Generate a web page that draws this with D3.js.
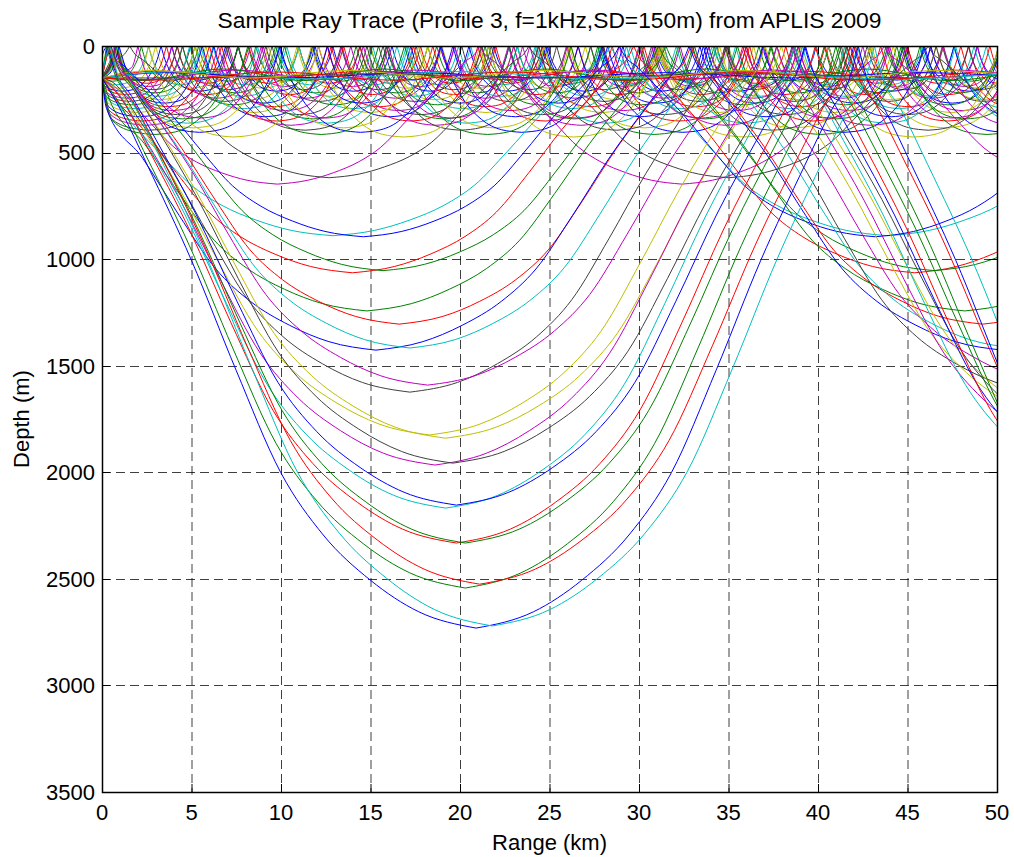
<!DOCTYPE html>
<html><head><meta charset="utf-8">
<script src="https://cdn.jsdelivr.net/npm/d3@7"></script>
<style>
body{margin:0;background:#fff}
text{font-family:"Liberation Sans",Arial,Helvetica,sans-serif;fill:#000}
</style>
</head><body>
<svg id="chart" width="1014" height="857"></svg>
<script>
// ---------------- data ----------------
const titleText = "Sample Ray Trace (Profile 3, f=1kHz,SD=150m) from APLIS 2009";
const xLabel = "Range (km)";
const yLabel = "Depth (m)";
const xTicks = [0,5,10,15,20,25,30,35,40,45,50];
const yTicks = [0,500,1000,1500,2000,2500,3000,3500];
const sourceDepth = 150;

// MATLAB colour order
const colorMap = {b:"#0000ff", g:"#008000", r:"#ff0000", c:"#00bfbf", m:"#bf00bf", y:"#bfbf00", k:"#404040"};

// deep refracted rays: colour, lower turning depth (m), range of first lower turning (km), cycle (km), launched up?
const deepColor  = ["m","k","c","b","r","g","g","r","b","c","k","m","y","y","m","k","c","b","r","g","g","r","b","c"];
const deepDepth  = [648,618,890,895,1064,1054,1243,1305,1427,1417,1624,1591,1825,1840,1966,1957,2168,2154,2332,2332,2543,2525,2731,2721];
const deepBottom = [9.8,12.7,12.9,14.6,14.0,15.7,14.8,16.6,15.3,17.2,17.2,18.2,18.3,19.2,18.6,19.6,19.2,19.8,19.8,20.3,20.3,21.1,20.9,21.8];
const deepCycle  = [22.6,22.3,31.0,28.6,31.4,30.8,33.4,32.6,35.0,33.8,35.4,35.4,37.5,37.5,38.2,38.2,39.0,39.0,40.1,40.1,41.4,41.4,42.7,42.7];
const deepUp     = [0,1,0,1,0,1,0,1,0,1,0,1,0,1,0,1,0,1,0,1,0,1,0,1];
// normalised half-cycle shape of a deep ray (fraction of half-cycle from surface, fraction of turning depth)
const deepShape = [[0,0],[0.02,0.05],[0.07,0.11],[0.14,0.205],[0.255,0.368],[0.372,0.557],[0.489,0.733],[0.6,0.84],[0.724,0.918],[0.85,0.972],[1,1]];

// surface-duct rays (surface reflected): colour, lower turning depth (m), cycle (km), first surface bounce (km), launched up?
const ductColor = ["b","g","r","c","m","y","k","b","g","r","c","m","y","k","b","g","r","c","m","y","k","b","g","r","c","m","y","k","b","g","y","m"];
const ductDepth = [160,165,175,182,190,198,205,212,220,228,236,245,252,260,268,276,285,294,303,312,322,332,342,352,362,372,384,395,405,415,427,338];
const ductCycle = [3.0,3.2,3.4,3.6,3.8,4.0,4.2,4.3,4.5,4.6,4.8,5.0,5.1,5.3,5.5,5.7,5.9,6.1,6.3,6.5,6.8,7.0,7.3,7.5,7.8,8.1,8.4,8.7,9.0,9.3,9.5,7.0];
const ductFirst = [0.9,2.2,0.8,2.6,0.7,3.0,0.75,3.3,0.7,3.6,0.72,3.9,0.7,4.2,0.75,4.5,0.78,4.9,0.8,5.2,0.82,5.6,0.85,6.0,0.88,6.5,0.9,7.0,0.95,7.6,2.6,2.0];
const ductUp    = [1,0,1,0,1,0,1,0,1,0,1,0,1,0,1,0,1,0,1,0,1,0,1,0,1,0,1,0,1,0,1,1];
const ductShape = [[0,0],[0.1,0.3],[0.25,0.58],[0.5,0.85],[0.75,0.97],[1,1]];

// channel rays near the source depth (refracted both ways): colour, upper (m), lower (m), cycle (km), first turning goes up?
const chanColor  = ["r","m","b","g","c","k","y","r"];
const chanTop    = [118,113,125,108,120,130,115,122];
const chanBottom = [152,158,150,162,155,150,150,160];
const chanCycle  = [12,10,14,9,16,20,11,13];
const chanUp     = [1,0,1,0,1,0,1,0];

// ---------------- layout ----------------
const W = 1014, H = 857;
const m = {left:102, right:17, top:46, bottom:65};
const pw = W - m.left - m.right, ph = H - m.top - m.bottom;
const x = d3.scaleLinear().domain([0,50]).range([0,pw]);
const y = d3.scaleLinear().domain([0,3500]).range([0,ph]);

const svg = d3.select("#chart");
const g = svg.append("g").attr("transform",`translate(${m.left},${m.top})`);

svg.append("defs").append("clipPath").attr("id","clip")
  .append("rect").attr("width",pw).attr("height",ph);

// grid
g.append("g").selectAll("line").data(xTicks.slice(1,-1)).join("line")
  .attr("x1",d=>x(d)+0.5).attr("x2",d=>x(d)+0.5).attr("y1",0).attr("y2",ph)
  .attr("stroke","#000").attr("stroke-width",1).attr("stroke-dasharray","9,5").attr("opacity",0.75);
g.append("g").selectAll("line").data(yTicks.slice(1,-1)).join("line")
  .attr("y1",d=>Math.round(y(d))+0.5).attr("y2",d=>Math.round(y(d))+0.5).attr("x1",0).attr("x2",pw)
  .attr("stroke","#000").attr("stroke-width",1).attr("stroke-dasharray","9,5").attr("opacity",0.75);

// ---------------- rays ----------------
const line = d3.line().x(d=>x(d[0])).y(d=>y(d[1])).curve(d3.curveMonotoneX);
const rays = g.append("g").attr("clip-path","url(#clip)");

function half(shape, xs, xb, D){
  const pts = shape.map(([u,f]) => [xs + u*(xb-xs), f*D]);
  return pts.sort((a,b)=>a[0]-b[0]);
}
function sortPts(p){ return p.sort((a,b)=>a[0]-b[0]); }

function surfaceRay(shape, D, first, cyc, up){
  const Hc = cyc/2, segs = [];
  let xs;
  if (up){
    const p = half(shape, first, first - Hc, D).filter(d => d[0] > 0 && d[1] < sourceDepth);
    segs.push(sortPts([[0,sourceDepth], ...p]));
    xs = first;
  } else {
    const b = first - Hc;
    const p = half(shape, b - Hc, b, D).filter(d => d[0] > 0 && d[1] > sourceDepth);
    segs.push(sortPts([[0,sourceDepth], ...p]));
    segs.push(half(shape, first, b, D));
    xs = first;
  }
  while (xs < 52){
    segs.push(half(shape, xs, xs + Hc, D));
    segs.push(half(shape, xs + cyc, xs + Hc, D));
    xs += cyc;
  }
  return segs.map(s => line(s)).join("");
}

// duct rays
ductDepth.forEach((D,i) => {
  rays.append("path").attr("d", surfaceRay(ductShape, D, ductFirst[i], ductCycle[i], ductUp[i]))
    .attr("fill","none").attr("stroke",colorMap[ductColor[i]]).attr("stroke-width",1);
});

// channel rays
chanTop.forEach((T,i) => {
  const h = chanCycle[i]/2, pts = [[0,sourceDepth]];
  let up = chanUp[i], xx = h/2;
  while (xx < 54){ pts.push([xx, up ? T : chanBottom[i]]); up = !up; xx += h; }
  rays.append("path").attr("d", line(pts)).attr("fill","none")
    .attr("stroke",colorMap[chanColor[i]]).attr("stroke-width",1);
});

// deep rays
deepDepth.forEach((D,i) => {
  const cyc = deepCycle[i], first = deepUp[i] ? deepBottom[i] - cyc/2 : deepBottom[i] + cyc/2;
  rays.append("path").attr("d", surfaceRay(deepShape, D, first, cyc, deepUp[i]))
    .attr("fill","none").attr("stroke",colorMap[deepColor[i]]).attr("stroke-width",1);
});

// ---------------- axes box & ticks ----------------
g.append("rect").attr("x",0.5).attr("y",0.5).attr("width",pw).attr("height",ph)
  .attr("fill","none").attr("stroke","#000").attr("stroke-width",1.5);
const tl = 8;
xTicks.forEach(t => {
  g.append("line").attr("x1",x(t)+0.5).attr("x2",x(t)+0.5).attr("y1",ph).attr("y2",ph-tl).attr("stroke","#000");
  g.append("line").attr("x1",x(t)+0.5).attr("x2",x(t)+0.5).attr("y1",0).attr("y2",tl).attr("stroke","#000");
  g.append("text").attr("x",x(t)).attr("y",ph+28).attr("text-anchor","middle").attr("font-size",22).text(t);
});
yTicks.forEach(t => {
  g.append("line").attr("x1",0).attr("x2",tl).attr("y1",Math.round(y(t))+0.5).attr("y2",Math.round(y(t))+0.5).attr("stroke","#000");
  g.append("line").attr("x1",pw).attr("x2",pw-tl).attr("y1",Math.round(y(t))+0.5).attr("y2",Math.round(y(t))+0.5).attr("stroke","#000");
  g.append("text").attr("x",-7).attr("y",y(t)).attr("dy","0.36em").attr("text-anchor","end").attr("font-size",22).text(t);
});

svg.append("text").attr("x",m.left+pw/2).attr("y",28).attr("text-anchor","middle").attr("font-size",22.8).text(titleText);
svg.append("text").attr("x",m.left+pw/2).attr("y",850).attr("text-anchor","middle").attr("font-size",22).text(xLabel);
svg.append("text").attr("transform",`translate(29,${m.top+ph/2}) rotate(-90)`).attr("text-anchor","middle").attr("font-size",22).text(yLabel);
</script>
</body></html>
